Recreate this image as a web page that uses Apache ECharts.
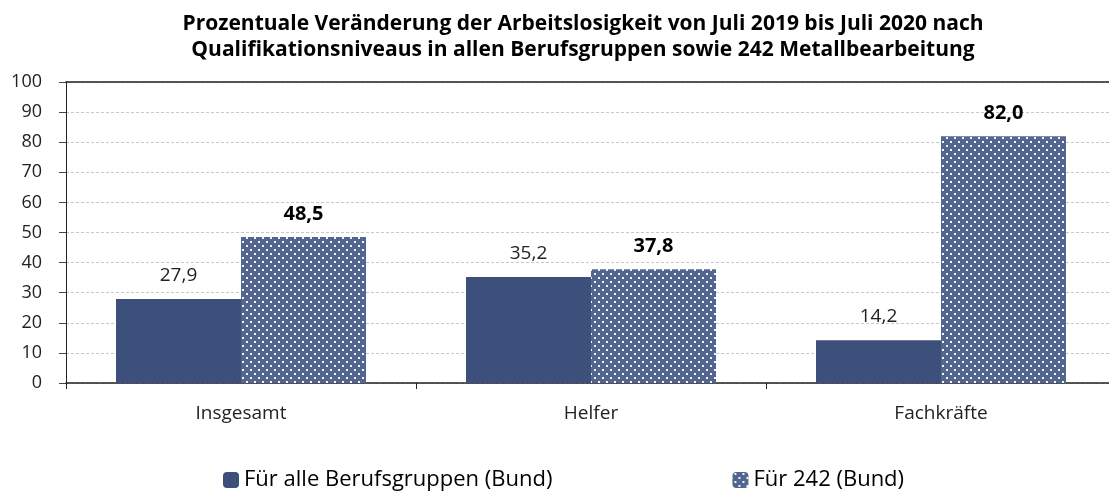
<!DOCTYPE html>
<html>
<head>
<meta charset="utf-8">
<script src="https://cdn.jsdelivr.net/npm/echarts@6/dist/echarts.min.js"></script>
<style>
  html, body { margin: 0; padding: 0; background: #fff; }
  #chart { width: 1109px; height: 494px; }
</style>
</head>
<body>
<div id="chart"></div>
<script>
  // Daten
  var categories = ['Insgesamt', 'Helfer', 'Fachkräfte'];
  var alleBerufe = [27.9, 35.2, 14.2];
  var beruf242 = [48.5, 37.8, 82.0];
  var seriesNames = ['Für alle Berufsgruppen (Bund)', 'Für 242 (Bund)'];
  var yTicks = [0, 10, 20, 30, 40, 50, 60, 70, 80, 90, 100];

  // Punktmuster fuer die zweite Reihe
  function dotPattern() {
    var c = document.createElement('canvas');
    c.width = 8; c.height = 8;
    var ctx = c.getContext('2d');
    ctx.fillStyle = '#52668f';
    ctx.fillRect(0, 0, 8, 8);
    ctx.fillStyle = '#f2f4f8';
    ctx.fillRect(2, 1, 2, 2);
    ctx.fillRect(6, 5, 2, 2);
    return c;
  }

  var fmt = function (p) { return p.value.toFixed(1).replace('.', ','); };
  var chart = echarts.init(document.getElementById('chart'));
  chart.setOption({
    animation: false,
    title: {
      text: 'Prozentuale Veränderung der Arbeitslosigkeit von Juli 2019 bis Juli 2020 nach\nQualifikationsniveaus in allen Berufsgruppen sowie 242 Metallbearbeitung',
      left: 578,
      textAlign: 'center',
      top: 6,
      textStyle: {
        fontFamily: 'Open Sans', fontWeight: 'bold', fontSize: 21, color: '#000', lineHeight: 26
      }
    },
    legend: {
      left: 218,
      top: 464,
      itemWidth: 16,
      itemHeight: 16,
      itemGap: 180,
      textStyle: { fontFamily: 'Open Sans', fontSize: 22, color: '#000', padding: [0, 0, 0, 0] },
      data: seriesNames
    },
    grid: { left: 66, top: 82, width: 1050, height: 301, outerBoundsMode: 'none', containLabel: false },
    xAxis: [{
      type: 'category',
      data: categories,
      axisLine: { lineStyle: { color: '#222', width: 1.5 } },
      axisTick: { show: true, length: 6, lineStyle: { color: '#222' } },
      axisLabel: { fontFamily: 'Open Sans', fontSize: 19, color: '#222', margin: 21 }
    }, {
      type: 'category',
      position: 'top',
      data: categories,
      axisLine: { lineStyle: { color: '#222', width: 1.5 } },
      axisTick: { show: false },
      axisLabel: { show: false }
    }],
    yAxis: {
      type: 'value',
      min: 0,
      max: yTicks[yTicks.length - 1],
      interval: 10,
      axisLine: { show: true, lineStyle: { color: '#222' } },
      axisTick: { show: true, length: 7, lineStyle: { color: '#444' } },
      axisLabel: { fontFamily: 'Open Sans', fontSize: 18, color: '#222', margin: 24 },
      splitLine: { show: true, lineStyle: { color: '#c8c8c8', type: [3, 2], width: 1 } }
    },
    series: [{
      name: seriesNames[0],
      type: 'bar',
      data: alleBerufe,
      barWidth: 125,
      barGap: '0%',
      itemStyle: { color: '#3d4f7b' },
      label: {
        show: true, position: 'top', distance: 14, formatter: fmt,
        fontFamily: 'Open Sans', fontSize: 19, color: '#222'
      }
    }, {
      name: seriesNames[1],
      type: 'bar',
      data: beruf242,
      barWidth: 125,
      barGap: '0%',
      itemStyle: { color: { image: dotPattern(), repeat: 'repeat' } },
      label: {
        show: true, position: 'top', distance: 13, formatter: fmt,
        fontFamily: 'Open Sans', fontWeight: 'bold', fontSize: 20, color: '#000'
      }
    }]
  });
</script>
</body>
</html>
